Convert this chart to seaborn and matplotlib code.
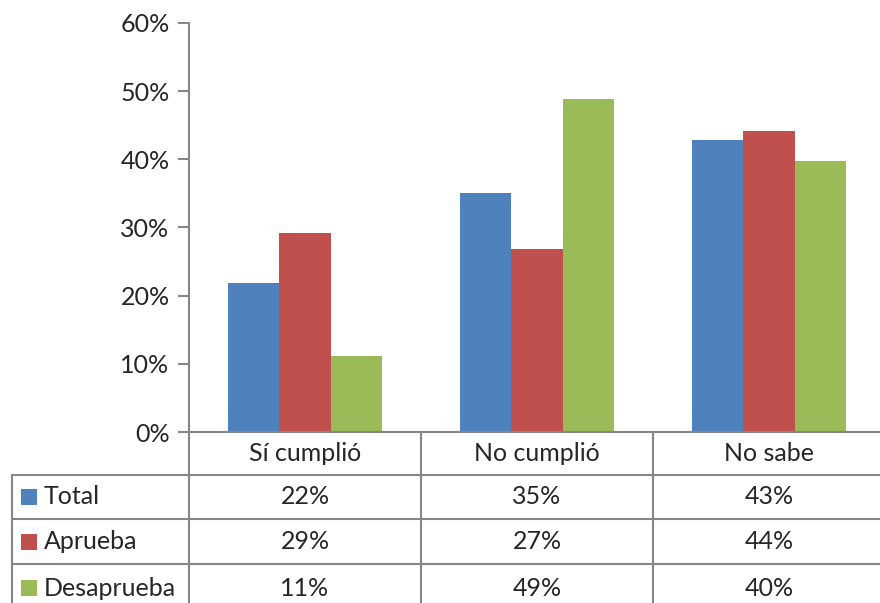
import matplotlib
matplotlib.use("Agg")
import matplotlib.pyplot as plt
import matplotlib.transforms as mtransforms
from matplotlib.patches import Rectangle
import seaborn as sns
import pandas as pd

categories = ["Sí cumplió", "No cumplió", "No sabe"]
series = ["Total", "Aprueba", "Desaprueba"]
total = [21.8, 35.1, 42.9]
aprueba = [29.2, 26.9, 44.1]
desaprueba = [11.2, 48.8, 39.8]
yticks = [0, 10, 20, 30, 40, 50, 60]
colors = ["#4F81BD", "#C0504D", "#9BBB59"]

rows = []
for name, vals in zip(series, [total, aprueba, desaprueba]):
    for cat, v in zip(categories, vals):
        rows.append({"cat": cat, "serie": name, "valor": v / 100})
df = pd.DataFrame(rows)

sns.set_style("white")
plt.rcParams["font.family"] = ["Lato", "DejaVu Sans"]
fs = 18
grid_c = "#868686"

W, H = 880, 603
col_w = 232
fig = plt.figure(figsize=(8.8, 6.03), dpi=100)
ax = fig.add_axes([189 / W, (H - 432) / H, 3 * col_w / W, 409 / H])

sns.barplot(data=df, x="cat", y="valor", hue="serie", palette=colors,
            width=0.664, saturation=1, legend=False, ax=ax, linewidth=0)

ax.set_xlim(-0.5, 2.5)
ax.set_ylim(0, 0.6)
ax.set_yticks([t / 100 for t in yticks])
ax.set_yticklabels([f"{t}%" for t in yticks], fontsize=fs)
ax.set_xticks([])
ax.set_xlabel("")
ax.set_ylabel("")
for s in ["top", "right"]:
    ax.spines[s].set_visible(False)
for s in ["left", "bottom"]:
    ax.spines[s].set_color(grid_c)
    ax.spines[s].set_linewidth(1.5)
ax.tick_params(axis="y", length=8, width=1.5, color=grid_c, direction="out", pad=6, left=True)

# data table below the axis
trans = mtransforms.blended_transform_factory(ax.transData, ax.transAxes)
px = 1 / 409
row_edges = [0, -43 * px, -87 * px, -132 * px, -180 * px]
x_left = -0.5 - 177 / col_w
x_right = 2.5

line_kw = dict(color=grid_c, lw=1.5, transform=trans, clip_on=False)
for y in row_edges[1:4]:
    ax.plot([x_left, x_right], [y, y], **line_kw)
ax.plot([-0.5, -0.5], [0, row_edges[-1]], **line_kw)
ax.plot([x_left, x_left], [row_edges[1], row_edges[-1]], **line_kw)
for xb in [0.5, 1.5]:
    ax.plot([xb, xb], [0, row_edges[-1]], **line_kw)

for i, cat in enumerate(categories):
    ax.text(i, (row_edges[0] + row_edges[1]) / 2, cat, ha="center", va="center",
            fontsize=fs, transform=trans)

sq = 16
for r, (name, vals) in enumerate(zip(series, [total, aprueba, desaprueba])):
    yc = (row_edges[r + 1] + row_edges[r + 2]) / 2
    ax.add_patch(Rectangle((x_left + 9 / col_w, yc - sq / 2 * px), sq / col_w, sq * px,
                           facecolor=colors[r], edgecolor="none",
                           transform=trans, clip_on=False))
    ax.text(x_left + 32 / col_w, yc, name, ha="left", va="center",
            fontsize=fs, transform=trans)
    for i, v in enumerate(vals):
        ax.text(i, yc, f"{round(v):.0f}%", ha="center", va="center",
                fontsize=fs, transform=trans)

fig.savefig("out.png", dpi=100)
